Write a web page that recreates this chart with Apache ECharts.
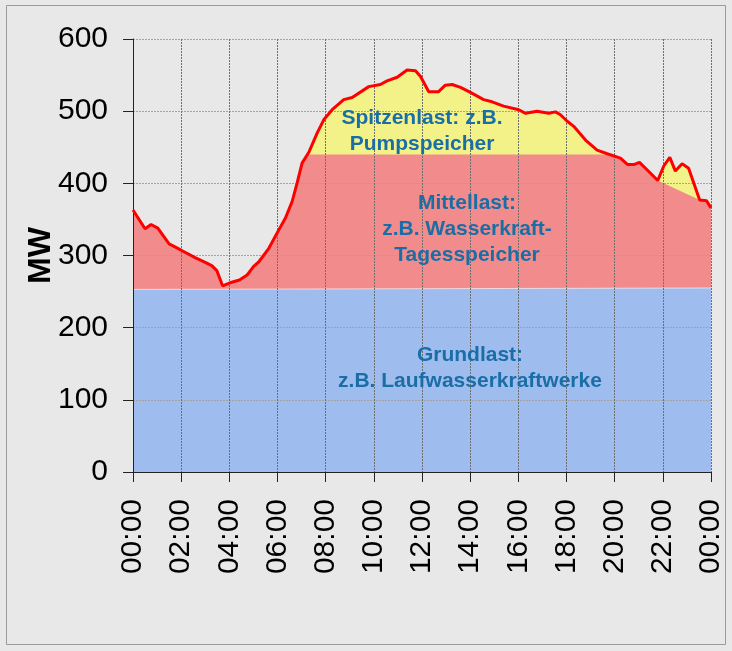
<!DOCTYPE html>
<html>
<head>
<meta charset="utf-8">
<script src="https://cdn.jsdelivr.net/npm/echarts@6/dist/echarts.min.js"></script>
<style>
  html, body { margin: 0; padding: 0; background: #e8e8e8; }
  #chart { width: 732px; height: 651px; }
</style>
</head>
<body>
<div id="chart"></div>
<script>
// total load over the day, [hour, MW]
const loadCurve = [
  [0, 363], [0.5, 337], [0.75, 343], [1.03, 338], [1.5, 316], [2.02, 307],
  [2.58, 297], [3.02, 290], [3.27, 286], [3.48, 279], [3.72, 258], [4.1, 263],
  [4.42, 266], [4.74, 273], [5.01, 285], [5.22, 291], [5.64, 310], [5.98, 331],
  [6.33, 352], [6.61, 375], [6.81, 400], [7.02, 428], [7.3, 443], [7.65, 470],
  [7.92, 488], [8.27, 502], [8.75, 516], [9.1, 519], [9.79, 534], [10.27, 537],
  [10.55, 542], [10.97, 547], [11.38, 557], [11.73, 556], [11.94, 548], [12.28, 527],
  [12.69, 527], [12.97, 536], [13.25, 537], [13.6, 533], [14.01, 526], [14.56, 516],
  [14.91, 513], [15.39, 507], [16.02, 502], [16.3, 497], [16.78, 500], [17.26, 497],
  [17.54, 499], [17.75, 495], [18.03, 486], [18.3, 479], [18.79, 460], [19.27, 446],
  [19.69, 441], [20.24, 435], [20.54, 426], [20.79, 426], [21.03, 429], [21.49, 414],
  [21.79, 404], [22.04, 424], [22.29, 436], [22.52, 417], [22.8, 427], [23.07, 421],
  [23.53, 377], [23.81, 376], [24, 366]
];
// upper edge of the Mittellast band (flat cap, sloping part at the end)
const midCap = 440;
const midSlope = [[21.79, 404], [23.53, 377]];
// Grundlast band
const baseLoad = [[0, 253], [24, 255]];

const yTicks = [0, 100, 200, 300, 400, 500, 600];
const xLabelHours = [0, 2, 4, 6, 8, 10, 12, 14, 16, 18, 20, 22, 24];

const labels = [
  { text: 'Spitzenlast: z.B.\nPumpspeicher', x: 422, y: 131 },
  { text: 'Mittellast:\nz.B. Wasserkraft-\nTagesspeicher', x: 467, y: 229 },
  { text: 'Grundlast:\nz.B. Laufwasserkraftwerke', x: 470, y: 368 }
];

// mid band follows the load below the cap, except in the sloping stretch
const midBand = loadCurve
  .filter(p => p[0] <= midSlope[0][0] || p[0] >= midSlope[1][0])
  .map(p => [p[0], Math.min(p[1], midCap)]);

const chart = echarts.init(document.getElementById('chart'));

function hh(v) {
  const h = v % 24;
  return (h < 10 ? '0' : '') + h + ':00';
}

chart.setOption({
  backgroundColor: '#e8e8e8',
  animation: false,
  grid: { left: 133, top: 39, right: 21, bottom: 179 },
  xAxis: {
    type: 'value',
    min: 0,
    max: 24,
    interval: 2,
    z: 3,
    axisLine: { lineStyle: { color: '#222', width: 1 } },
    axisTick: { show: true, length: 10, lineStyle: { color: '#222' } },
    axisLabel: {
      rotate: 90,
      margin: 27,
      fontSize: 30,
      fontFamily: 'Liberation Sans, Arial, sans-serif',
      color: '#000',
      formatter: v => xLabelHours.indexOf(v) >= 0 ? hh(v) : ''
    },
    splitLine: { show: true, lineStyle: { color: '#6f6f6f', type: [2, 1], width: 1 } }
  },
  yAxis: {
    type: 'value',
    min: 0,
    max: 600,
    interval: 100,
    z: 3,
    name: 'MW',
    nameLocation: 'middle',
    nameGap: 76,
    nameMoveOverlap: false,
    nameTextStyle: {
      fontSize: 32,
      fontWeight: 'bold',
      fontFamily: 'Liberation Sans, Arial, sans-serif',
      color: '#000'
    },
    axisLine: { show: true, lineStyle: { color: '#222', width: 1 } },
    axisTick: { show: true, length: 10, lineStyle: { color: '#222' } },
    axisLabel: {
      margin: 25,
      fontSize: 30,
      fontFamily: 'Liberation Sans, Arial, sans-serif',
      color: '#000',
      formatter: v => yTicks.indexOf(v) >= 0 ? String(v) : ''
    },
    splitLine: { show: true, lineStyle: { color: '#a3a3a3', type: [2, 1], width: 1 } }
  },
  series: [
    {
      name: 'Spitzenlast',
      type: 'line',
      data: loadCurve,
      showSymbol: false,
      z: 2,
      lineStyle: { width: 0 },
      areaStyle: { color: '#f2f289', opacity: 1 }
    },
    {
      name: 'Mittellast',
      type: 'line',
      data: midBand,
      showSymbol: false,
      z: 2,
      lineStyle: { width: 0 },
      areaStyle: { color: '#f28b8b', opacity: 1 }
    },
    {
      name: 'Grundlast',
      type: 'line',
      data: baseLoad,
      showSymbol: false,
      z: 2,
      lineStyle: { width: 1, color: 'rgba(255,255,255,0.6)' },
      areaStyle: { color: '#9ebcee', opacity: 1 }
    },
    {
      name: 'Last',
      type: 'line',
      data: loadCurve,
      showSymbol: false,
      z: 5,
      lineStyle: { width: 3, color: '#ff0000' }
    }
  ],
  graphic: [
    {
      type: 'rect',
      z: -1,
      shape: { x: 6.5, y: 5.5, width: 719, height: 639 },
      style: { fill: 'none', stroke: '#9a9a9a', lineWidth: 1 }
    }
  ].concat(labels.map(l => ({
    type: 'text',
    z: 10,
    x: l.x,
    y: l.y,
    style: {
      text: l.text,
      fill: '#1a6ea6',
      font: 'bold 21px "Liberation Sans", Arial, sans-serif',
      lineHeight: 26,
      align: 'center',
      verticalAlign: 'middle'
    }
  })))
});
</script>
</body>
</html>
